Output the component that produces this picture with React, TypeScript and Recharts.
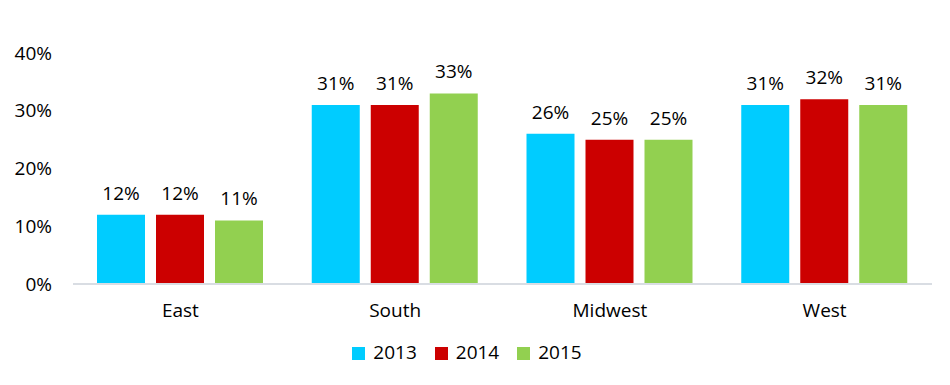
import { Bar, BarChart, LabelList, Legend, XAxis, YAxis } from 'recharts'

const regions = ['East', 'South', 'Midwest', 'West']
const y2013 = [12, 31, 26, 31]
const y2014 = [12, 31, 25, 32]
const y2015 = [11, 33, 25, 31]
const yTicks = [0, 10, 20, 30, 40]

const data = regions.map((region, i) => ({
  region,
  '2013': y2013[i],
  '2014': y2014[i],
  '2015': y2015[i],
}))

const font = '"Open Sans", sans-serif'
const tick = { fill: '#000', fontSize: 19, fontFamily: font }
const pct = (v: any) => `${v}%`

export default function App() {
  return (
    <div style={{ position: 'absolute', left: 0, top: 0, background: '#fff' }}>
      <BarChart
        width={950}
        height={385}
        data={data}
        margin={{ top: 53, right: 18, left: 0, bottom: 20 }}
        barCategoryGap={24}
        barGap={11}
      >
        <XAxis
          dataKey="region"
          tick={tick}
          tickLine={false}
          axisLine={{ stroke: '#d9dde3', strokeWidth: 2 }}
          tickMargin={14}
          height={55}
        />
        <YAxis
          domain={[0, 40]}
          ticks={yTicks}
          tickFormatter={pct}
          tick={tick}
          tickLine={false}
          axisLine={false}
          tickMargin={15}
          width={73}
        />
        <Legend
          iconType="square"
          iconSize={13}
          wrapperStyle={{ fontFamily: font, fontSize: 19, color: '#000', paddingLeft: 10 }}
          formatter={(v) => <span style={{ color: '#000', marginLeft: 4, marginRight: 8 }}>{v}</span>}
        />
        <Bar dataKey="2013" fill="#00ccff" isAnimationActive={false}>
          <LabelList dataKey="2013" position="top" offset={15} formatter={pct} style={tick} />
        </Bar>
        <Bar dataKey="2014" fill="#cc0000" isAnimationActive={false}>
          <LabelList dataKey="2014" position="top" offset={15} formatter={pct} style={tick} />
        </Bar>
        <Bar dataKey="2015" fill="#92d050" isAnimationActive={false}>
          <LabelList dataKey="2015" position="top" offset={15} formatter={pct} style={tick} />
        </Bar>
      </BarChart>
    </div>
  )
}
